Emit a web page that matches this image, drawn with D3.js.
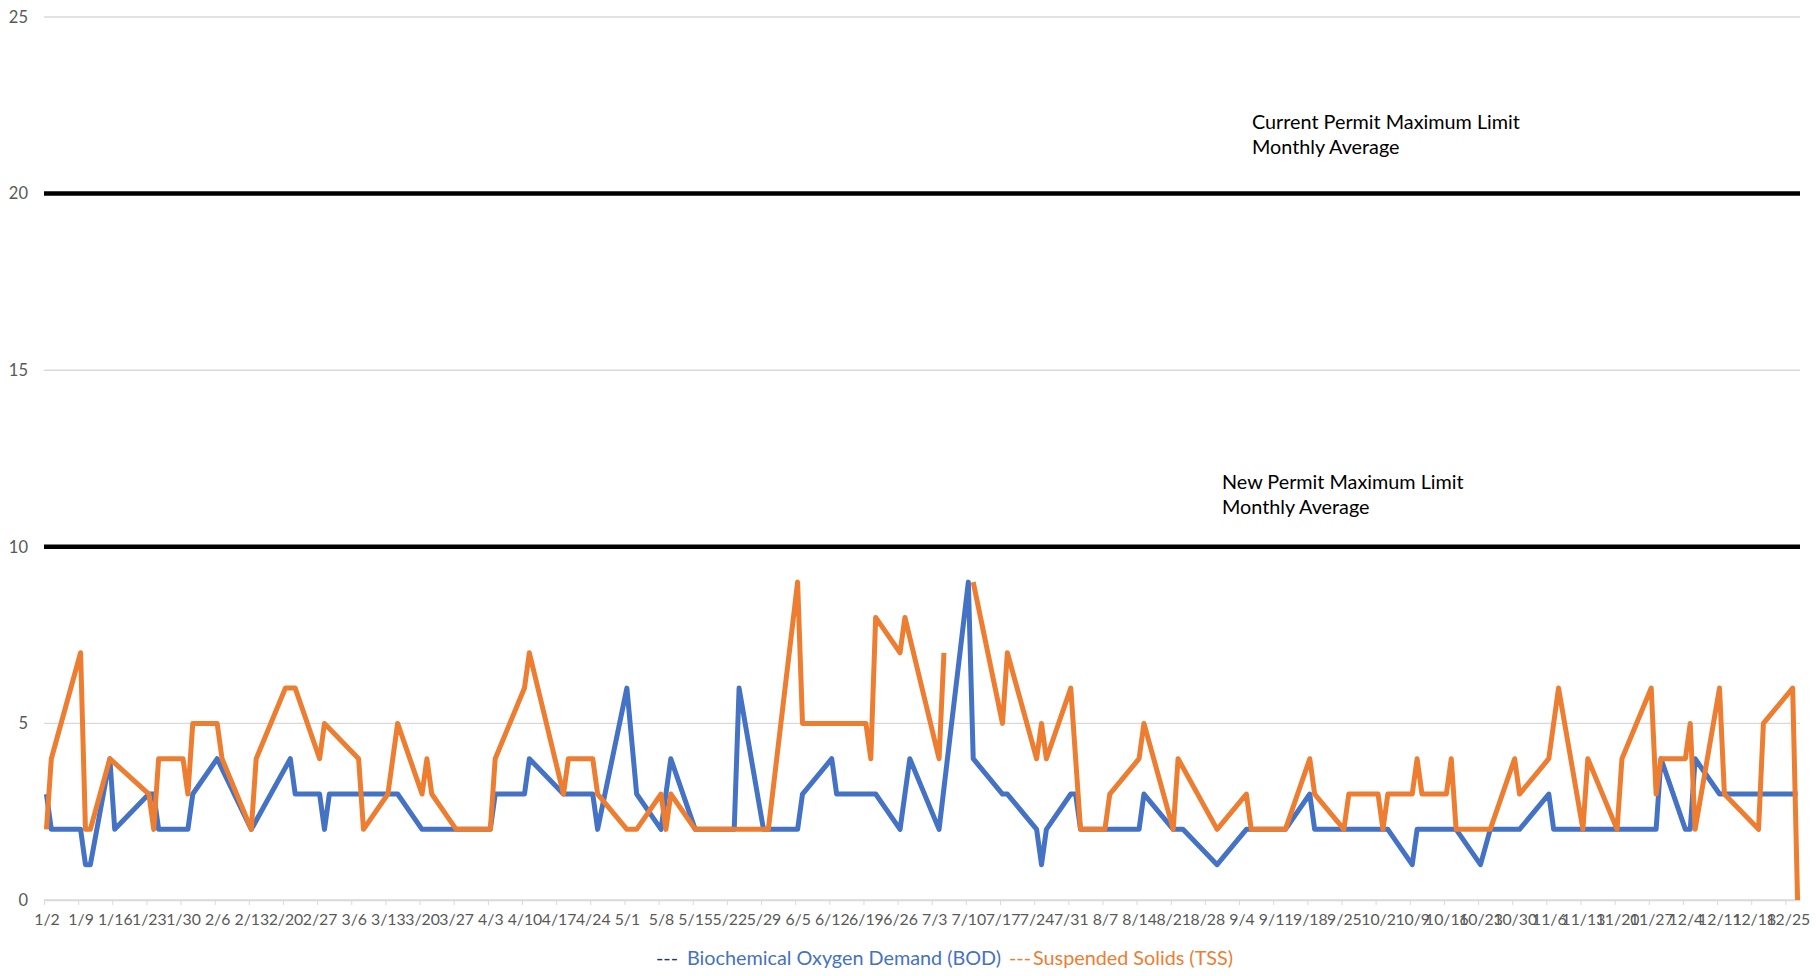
<!DOCTYPE html>
<html>
<head>
<meta charset="utf-8">
<script src="https://cdn.jsdelivr.net/npm/d3@7"></script>
<style>
  body { margin: 0; background: #fff; }
  svg { display: block; font-family: Lato, "Open Sans", sans-serif; }
</style>
</head>
<body>
<svg id="chart" width="1816" height="976"></svg>
<script>
// weekly axis labels
var tickLabels = ["1/2","1/9","1/16","1/23","1/30","2/6","2/13","2/20","2/27","3/6","3/13","3/20","3/27",
  "4/3","4/10","4/17","4/24","5/1","5/8","5/15","5/22","5/29","6/5","6/12","6/19","6/26","7/3","7/10",
  "7/17","7/24","7/31","8/7","8/14","8/21","8/28","9/4","9/11","9/18","9/25","10/2","10/9","10/16",
  "10/23","10/30","11/6","11/13","11/20","11/27","12/4","12/11","12/18","12/25"];
var yTicks = [0, 5, 10, 15, 20, 25];

// BOD samples
var bodDates = ["1/2","1/3","1/9","1/10","1/11","1/15","1/16","1/23","1/24","1/25","1/31","2/1","2/6","2/13",
  "2/21","2/22","2/27","2/28","3/1","3/15","3/20","4/3","4/4","4/10","4/11","4/18","4/24","4/25","5/1",
  "5/3","5/8","5/10","5/15","5/23","5/24","5/29","6/5","6/6","6/12","6/13","6/21","6/26","6/28","7/4",
  "7/10","7/11","7/17","7/18","7/24","7/25","7/26","7/31","8/1","8/2","8/14","8/15","8/21","8/23","8/30",
  "9/5","9/13","9/18","9/19","10/4","10/9","10/10","10/18","10/23","10/25","10/31","11/6","11/7","11/28",
  "11/29","12/4","12/5","12/6","12/11","12/27"];
var bodValues = [3,2,2,1,1,4,2,3,3,2,2,3,4,2,
  4,3,3,2,3,3,2,2,3,3,4,3,3,2,6,
  3,2,4,2,2,6,2,2,3,4,3,3,2,4,2,
  9,4,3,3,2,1,2,3,3,2,2,3,2,2,1,
  2,2,3,2,2,1,2,2,1,2,2,3,2,2,
  4,2,2,4,3,3];

// TSS samples (null = missing sample)
var tssDates = ["1/2","1/3","1/9","1/10","1/11","1/15","1/23","1/24","1/25","1/30","1/31","2/1","2/6",
  "2/7","2/13","2/14","2/20","2/22","2/27","2/28","3/7","3/8","3/13","3/15","3/20","3/21","3/22","3/27",
  "4/3","4/4","4/10","4/11","4/18","4/19","4/24","4/25","5/1","5/3","5/8","5/9","5/10","5/15","5/30",
  "6/5","6/6","6/19","6/20","6/21","6/26","6/27","7/4","7/5","7/7","7/11","7/17","7/18","7/24","7/25",
  "7/26","7/31","8/2","8/7","8/8","8/14","8/15","8/21","8/22","8/30","9/5","9/6","9/13","9/18","9/19",
  "9/25","9/26","10/2","10/3","10/4","10/9","10/10","10/11","10/16","10/17","10/18","10/25","10/30",
  "10/31","11/6","11/8","11/13","11/14","11/20","11/21","11/27","11/28","11/29","12/4","12/5","12/6",
  "12/11","12/12","12/19","12/20","12/26","12/27"];
var tssValues = [2,4,7,2,2,4,3,2,4,4,3,5,5,
  4,2,4,6,6,4,5,4,2,3,5,3,4,3,2,
  2,4,6,7,3,4,4,3,2,2,3,2,3,2,2,
  9,5,5,4,8,7,8,4,7,null,9,5,7,4,5,
  4,6,2,2,3,4,5,2,4,2,3,2,2,4,3,
  2,3,3,2,3,3,4,3,3,4,2,2,4,
  3,4,6,2,4,2,4,6,3,4,4,5,2,
  6,3,2,5,6,0];

var limitValues = [20, 10];
var limitNotes = [["Current Permit Maximum Limit", "Monthly Average"],
                  ["New Permit Maximum Limit", "Monthly Average"]];
var seriesNames = ["Biochemical Oxygen Demand (BOD)", "Suspended Solids (TSS)"];

var parse = function (s) { return d3.utcParse("%m/%d/%Y")(s + "/2023"); };

var svg = d3.select("#chart");
var plotLeft = 44, plotRight = 1800, plotTop = 17, plotBottom = 900;

var firstDay = parse(tickLabels[0]);
var lastDay = parse(tssDates[tssDates.length - 1]);
var x = d3.scaleUtc().domain([firstDay, d3.utcDay.offset(lastDay, 1)]).range([plotLeft, plotRight]);
var y = d3.scaleLinear().domain([0, 25]).range([plotBottom, plotTop]);
var halfDay = (x(d3.utcDay.offset(firstDay, 1)) - x(firstDay)) / 2;

// grid
svg.append("g").selectAll("line").data(yTicks).enter().append("line")
    .attr("x1", plotLeft).attr("x2", plotRight)
    .attr("y1", function (d) { return y(d); }).attr("y2", function (d) { return y(d); })
    .attr("stroke", "#d9d9d9").attr("stroke-width", 1.4);

svg.append("g").selectAll("text").data(yTicks).enter().append("text")
    .attr("x", 28).attr("y", function (d) { return y(d); })
    .attr("dy", "0.35em").attr("text-anchor", "end")
    .attr("fill", "#595959").attr("font-size", 16.5)
    .text(function (d) { return d; });

// x axis
var xAxis = d3.axisBottom(x)
    .tickValues(tickLabels.map(parse))
    .tickFormat(function (d, i) { return tickLabels[i]; })
    .tickSize(5).tickSizeOuter(0);
var gx = svg.append("g").attr("transform", "translate(0," + plotBottom + ")").call(xAxis);
gx.select(".domain").attr("stroke", "#d9d9d9").attr("stroke-width", 1.4);
gx.selectAll(".tick line").attr("stroke", "#d9d9d9");
gx.selectAll(".tick text")
    .attr("x", halfDay).attr("y", 14)
    .attr("fill", "#595959").attr("font-size", 15.8)
    .attr("font-family", "Lato, sans-serif");

// permit limit lines
svg.append("g").selectAll("line").data(limitValues).enter().append("line")
    .attr("x1", plotLeft).attr("x2", plotRight)
    .attr("y1", function (d) { return y(d); }).attr("y2", function (d) { return y(d); })
    .attr("stroke", "#000").attr("stroke-width", 4.5);

var noteX = [1252, 1222], noteGap = [65, 58];
limitNotes.forEach(function (lines, k) {
    var t = svg.append("text")
        .attr("x", noteX[k]).attr("y", y(limitValues[k]) - noteGap[k])
        .attr("font-size", 19.8).attr("fill", "#000");
    lines.forEach(function (s, j) {
        t.append("tspan").attr("x", noteX[k]).attr("dy", j === 0 ? 0 : 25.5).text(s);
    });
});

// series lines
var line = d3.line()
    .defined(function (d) { return d.v != null; })
    .x(function (d) { return x(d.date) + halfDay; })
    .y(function (d) { return y(d.v); });

function rows(dates, values) {
    return dates.map(function (s, i) { return { date: parse(s), v: values[i] }; });
}

var colors = ["#4472c4", "#ed7d31"];
[rows(bodDates, bodValues), rows(tssDates, tssValues)].forEach(function (data, i) {
    svg.append("path").datum(data)
        .attr("fill", "none")
        .attr("stroke", colors[i])
        .attr("stroke-width", 5)
        .attr("stroke-linejoin", "round")
        .attr("d", line);
});

// legend: dash marker + coloured name per series
var legendDash = [656, 1009], legendText = [687, 1033], dashColors = ["#203864", colors[1]];
seriesNames.forEach(function (name, i) {
    svg.append("text").attr("x", legendDash[i]).attr("y", 965).attr("font-size", 19.8)
        .attr("fill", dashColors[i]).text("---");
    svg.append("text").attr("x", legendText[i]).attr("y", 965).attr("font-size", 19.8)
        .attr("fill", colors[i]).text(name);
});
</script>
</body>
</html>
